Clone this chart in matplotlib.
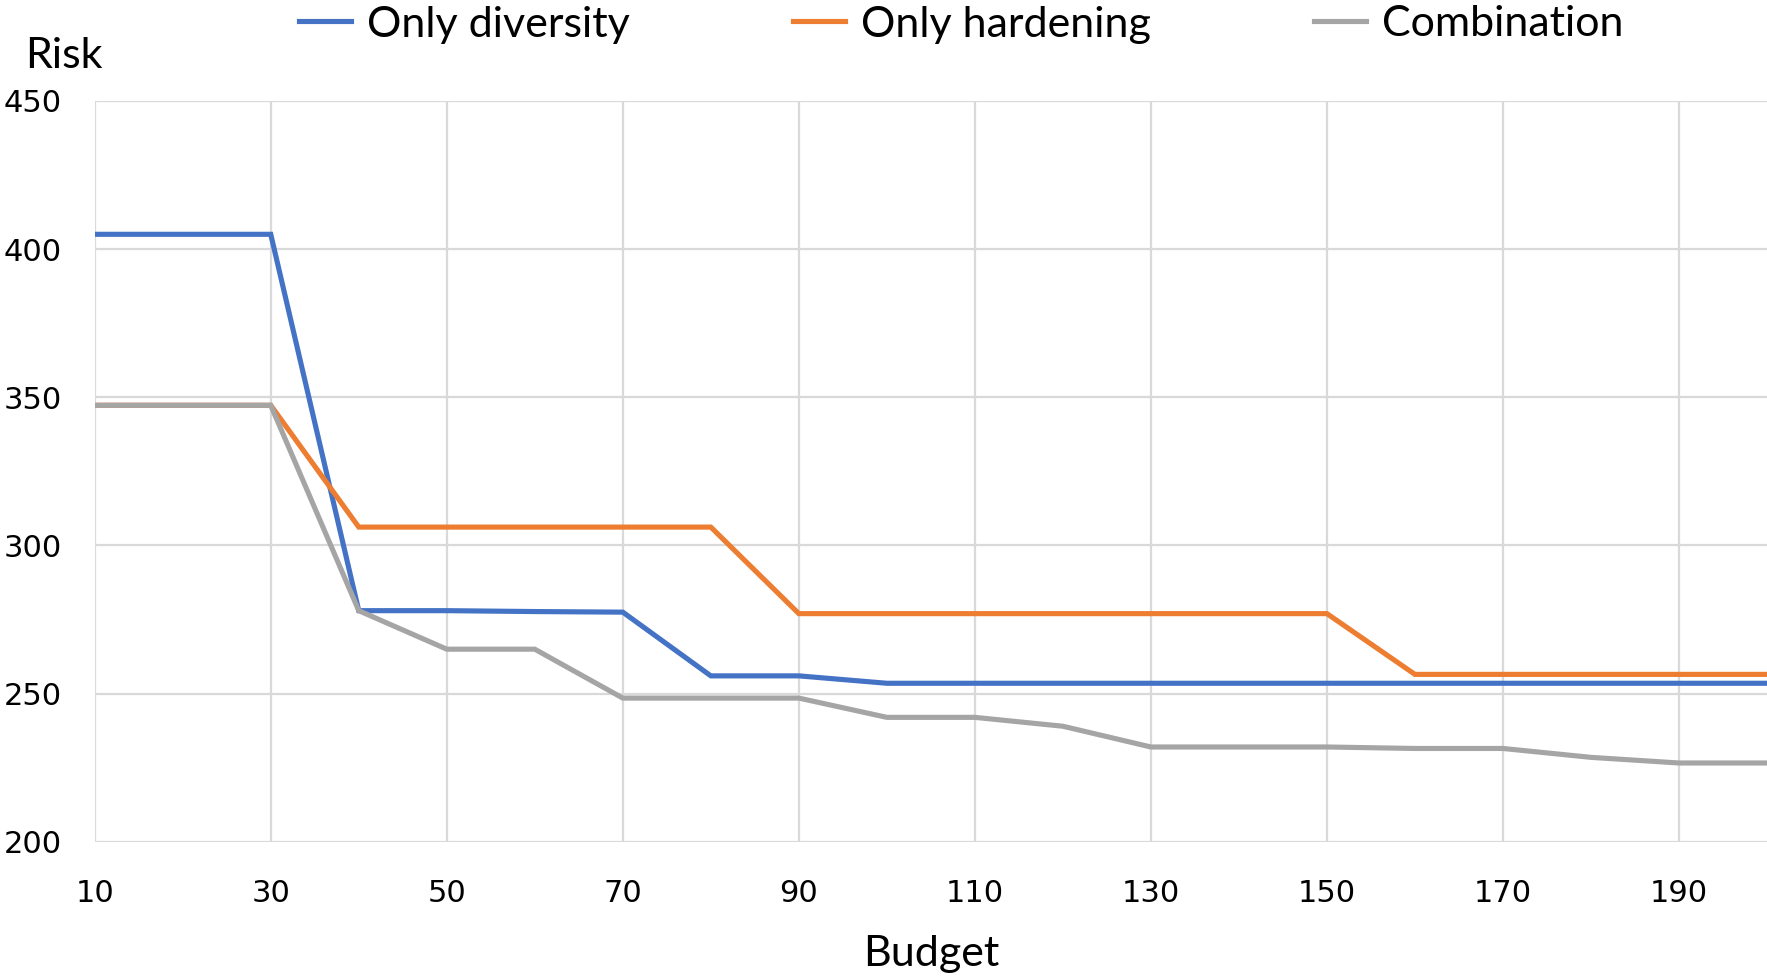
import matplotlib
matplotlib.use("Agg")
import matplotlib.pyplot as plt

budget = [10, 20, 30, 40, 50, 60, 70, 80, 90, 100, 110, 120, 130, 140, 150, 160, 170, 180, 190, 200]
only_diversity = [405, 405, 405, 278, 278, 277.7, 277.5, 256, 256, 253.5, 253.5, 253.5, 253.5, 253.5,
                  253.5, 253.5, 253.5, 253.5, 253.5, 253.5]
only_hardening = [347.3, 347.3, 347.3, 306.2, 306.2, 306.2, 306.2, 306.2, 277, 277, 277, 277, 277, 277,
                  277, 256.5, 256.5, 256.5, 256.5, 256.5]
combination = [347.3, 347.3, 347.3, 278, 265, 265, 248.5, 248.5, 248.5, 242, 242, 239, 232, 232,
               232, 231.5, 231.5, 228.5, 226.6, 226.6]
series_names = ["Only diversity", "Only hardening", "Combination"]
series_colors = ["#4472C4", "#ED7D31", "#A5A5A5"]
x_ticks = [10, 30, 50, 70, 90, 110, 130, 150, 170, 190]
y_ticks = [200, 250, 300, 350, 400, 450]

plt.rcParams["font.family"] = ["Lato", "DejaVu Sans"]

fig = plt.figure(figsize=(17.67, 9.8), dpi=100)
ax = fig.add_axes([0.0536, 0.141, 0.9464, 0.756])

for vals, name, col in zip([only_diversity, only_hardening, combination], series_names, series_colors):
    ax.plot(budget, vals, color=col, lw=3.7, label=name, solid_joinstyle="miter", zorder=3)

ax.set_xlim(10, 200)
ax.set_ylim(200, 450)
ax.set_xticks(x_ticks)
ax.set_yticks(y_ticks)
ax.grid(True, color="#D9D9D9", lw=1.6, zorder=0)
for s in ax.spines.values():
    s.set_visible(False)
ax.tick_params(length=0)
ax.tick_params(axis="x", pad=27)
ax.tick_params(axis="y", pad=24)
for lbl in ax.get_xticklabels() + ax.get_yticklabels():
    lbl.set_fontfamily("DejaVu Sans")
    lbl.set_fontsize(22)

ax.set_xlabel("Budget", fontsize=31, labelpad=19)
fig.text(0.014, 0.943, "Risk", fontsize=31, ha="left", va="center")

fig.legend(loc="center", bbox_to_anchor=(0.544, 0.975), ncol=3, frameon=False, fontsize=31,
           handlelength=1.2, handletextpad=0.37, columnspacing=3.8)

fig.savefig("out.png", dpi=100, facecolor="white")
